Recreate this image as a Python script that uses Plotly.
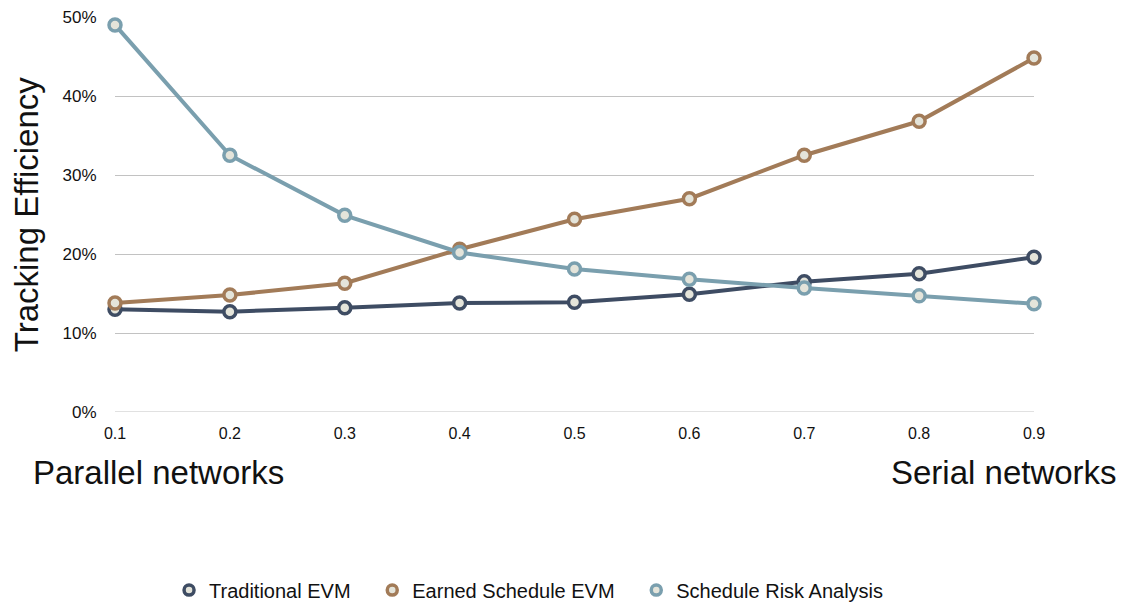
import plotly.graph_objects as go

# Order-strength parameter of the project networks (0.1 = parallel, 0.9 = serial)
sp_values = [0.1, 0.2, 0.3, 0.4, 0.5, 0.6, 0.7, 0.8, 0.9]

# Tracking efficiency per method (%)
traditional_evm = [13.0, 12.7, 13.2, 13.8, 13.9, 14.9, 16.5, 17.5, 19.6]
earned_schedule_evm = [13.8, 14.8, 16.3, 20.6, 24.4, 27.0, 32.5, 36.8, 44.8]
schedule_risk_analysis = [49.0, 32.5, 24.9, 20.2, 18.1, 16.8, 15.7, 14.7, 13.7]

series_names = ["Traditional EVM", "Earned Schedule EVM", "Schedule Risk Analysis"]
series_values = [traditional_evm, earned_schedule_evm, schedule_risk_analysis]
series_colors = ["#3e4c63", "#a27b58", "#7a9fae"]

y_tick_values = [0, 10, 20, 30, 40, 50]
y_tick_labels = ["0%", "10%", "20%", "30%", "40%", "50%"]
x_tick_labels = ["0.1", "0.2", "0.3", "0.4", "0.5", "0.6", "0.7", "0.8", "0.9"]

FONT = "Liberation Sans, Helvetica, Arial, sans-serif"
MARKER_FILL = "#e4e4da"
NBSP = "\u00a0"

fig = go.Figure()

for name, values, color in zip(series_names, series_values, series_colors):
    fig.add_trace(go.Scatter(
        x=sp_values, y=values, name=name, mode="lines+markers",
        line=dict(color=color, width=4),
        marker=dict(size=12, color=MARKER_FILL, line=dict(color=color, width=3.5)),
        cliponaxis=False, showlegend=False,
    ))

# Marker-only legend entries
for i, (name, color) in enumerate(zip(series_names, series_colors)):
    label = name + (NBSP * 3 if i < len(series_names) - 1 else "")
    fig.add_trace(go.Scatter(
        x=[None], y=[None], name=label, mode="markers",
        marker=dict(size=10, color=MARKER_FILL, line=dict(color=color, width=3.5)),
        showlegend=True,
    ))

fig.update_layout(
    width=1123, height=604,
    margin=dict(l=115, r=89, t=17, b=192, autoexpand=False),
    paper_bgcolor="white", plot_bgcolor="white",
    font=dict(family=FONT, color="#111111"),
    xaxis=dict(
        range=[0.1, 0.9], tickvals=sp_values, ticktext=x_tick_labels,
        showgrid=False, zeroline=False, showline=False,
        ticks="outside", ticklen=7, tickcolor="rgba(0,0,0,0)",
        tickfont=dict(size=16, family=FONT, color="#111111"),
    ),
    yaxis=dict(
        range=[0, 50], tickvals=y_tick_values, ticktext=y_tick_labels,
        showgrid=True, gridcolor="#c2c2c2", gridwidth=1,
        zeroline=False, showline=False,
        ticks="outside", ticklen=14, tickcolor="rgba(0,0,0,0)",
        tickfont=dict(size=17, family=FONT, color="#111111"),
    ),
    legend=dict(
        orientation="h", x=0.45, xanchor="center",
        yref="container", y=0.023, yanchor="middle",
        font=dict(size=20, family=FONT, color="#111111"),
        itemwidth=30, tracegroupgap=0,
    ),
    showlegend=True,
)

# Baseline at 0%
fig.add_shape(type="line", xref="paper", yref="y", x0=0, x1=1, y0=0, y1=0,
              line=dict(color="#c2c2c2", width=1), layer="below")

fig.add_annotation(
    text="Tracking Efficiency", textangle=-90,
    xref="paper", yref="paper", x=-0.096, y=0.5,
    xanchor="center", yanchor="middle", showarrow=False,
    font=dict(size=33, family=FONT, color="#111111"),
)
fig.add_annotation(
    text="Parallel networks", xref="paper", yref="paper",
    x=-0.091, y=-0.152, xanchor="left", yanchor="middle", showarrow=False,
    font=dict(size=33, family=FONT, color="#111111"),
)
fig.add_annotation(
    text="Serial networks", xref="paper", yref="paper",
    x=1.092, y=-0.152, xanchor="right", yanchor="middle", showarrow=False,
    font=dict(size=33, family=FONT, color="#111111"),
)

fig.write_html("out.html")
